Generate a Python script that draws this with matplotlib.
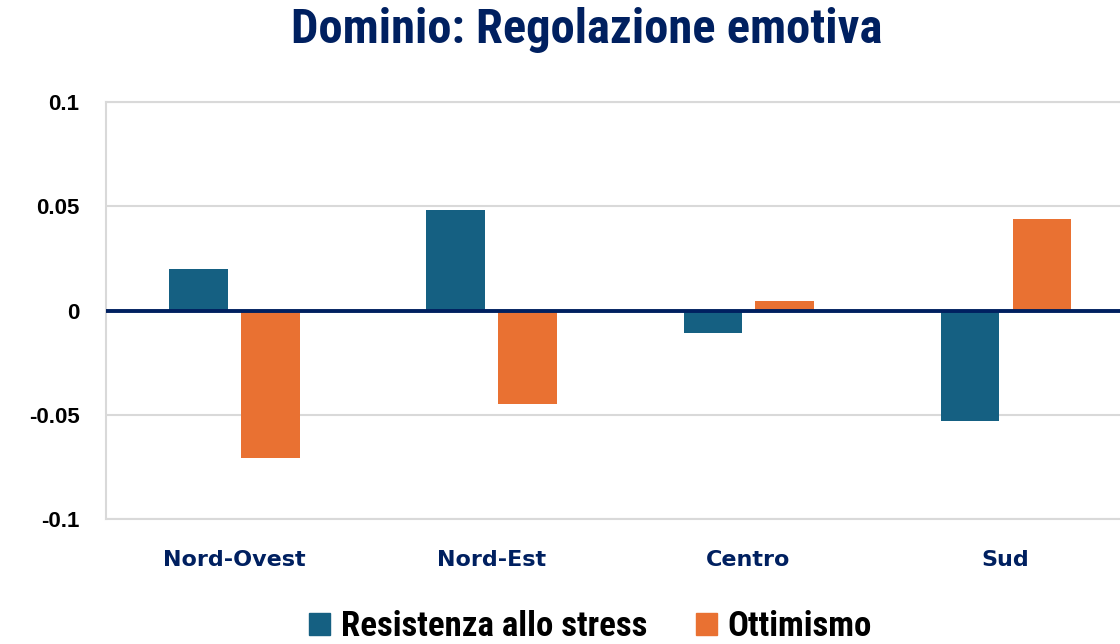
import numpy as np
import matplotlib.pyplot as plt
from matplotlib.patches import Patch

regioni = ['Nord-Ovest', 'Nord-Est', 'Centro', 'Sud']
resistenza = [0.0197, 0.048, -0.011, -0.0528]
ottimismo = [-0.0706, -0.045, 0.0048, 0.0437]
yticks = [-0.1, -0.05, 0, 0.05, 0.1]
ytick_labels = ['-0.1', '-0.05', '0', '0.05', '0.1']

blu = '#156082'
arancio = '#E97132'
navy = '#002060'
narrow = ['Roboto Condensed', 'DejaVu Sans']

fig = plt.figure(figsize=(11.2, 6.44), dpi=100)
ax = fig.add_axes([0.0946, 0.194, 0.918, 0.6476])

x = np.arange(len(regioni))
w = 0.226
ax.bar(x - 0.14, resistenza, w, color=blu, zorder=3)
ax.bar(x + 0.14, ottimismo, w, color=arancio, zorder=3)
ax.axhline(0, color=navy, linewidth=2.8, zorder=4)

ax.set_xlim(-0.5, 3.5)
ax.set_ylim(-0.1, 0.1)
ax.set_yticks(yticks)
ax.set_yticklabels(ytick_labels, fontsize=16, fontweight='bold',
                   family=['Liberation Sans', 'DejaVu Sans'], stretch='normal')
ax.set_xticks(x)
ax.set_xticklabels(regioni, fontsize=16, fontweight='bold', color=navy, family=['DejaVu Sans'])
ax.tick_params(length=0)
ax.tick_params(axis='y', pad=19)
ax.tick_params(axis='x', pad=22)
ax.grid(axis='y', color='#d9d9d9', linewidth=1.5, zorder=0)
for s in ax.spines.values():
    s.set_color('#d9d9d9')
    s.set_linewidth(1.5)

fig.text(0.524, 0.953, 'Dominio: Regolazione emotiva', ha='center', va='center',
         fontsize=35, fontweight='bold', color=navy, family=narrow)

handles = [Patch(color=blu, label='Resistenza allo stress'),
           Patch(color=arancio, label='Ottimismo')]
fig.legend(handles=handles, loc='center', bbox_to_anchor=(0.527, 0.027), ncol=2, frameon=False,
           prop={'family': narrow, 'size': 25, 'weight': 'bold'}, handlelength=0.62, handleheight=0.62,
           handletextpad=0.3, columnspacing=1.4)

fig.savefig('out.png', dpi=100)
